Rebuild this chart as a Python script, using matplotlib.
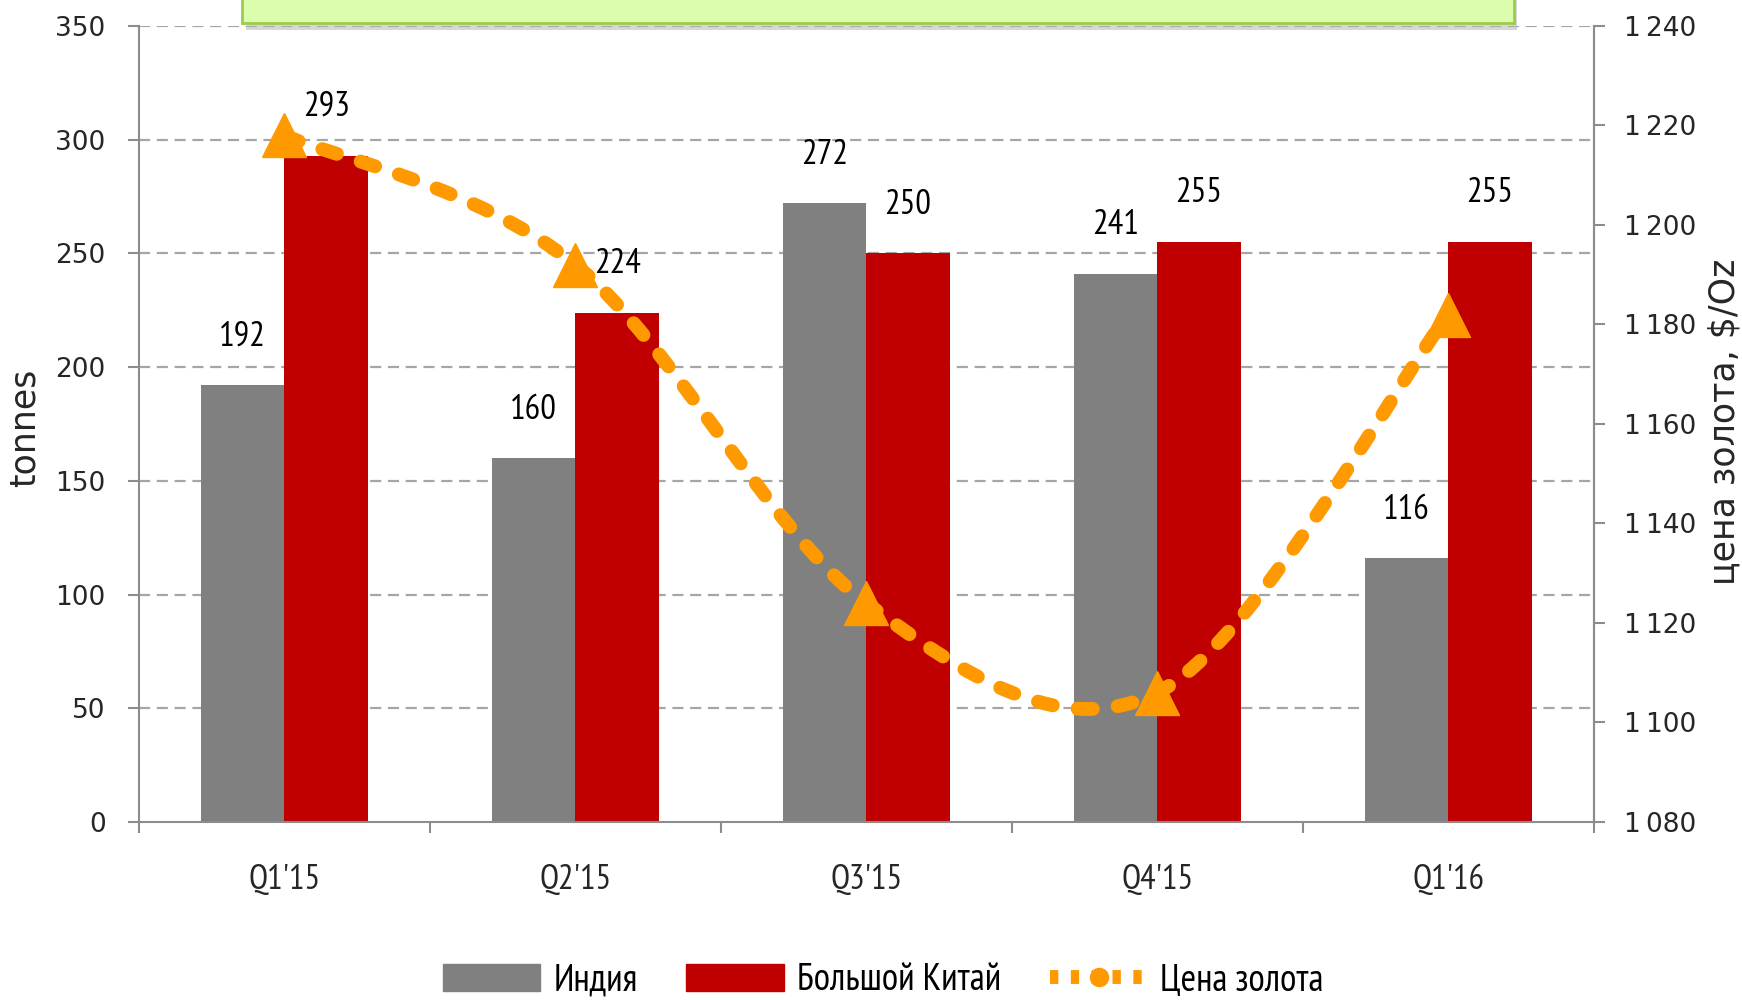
"""
Спрос на золото: Индия и Большой Китай, цена золота
"""

import numpy as np
import matplotlib.pyplot as plt
from matplotlib.path import Path
from matplotlib.patches import PathPatch, Rectangle, Patch
from matplotlib.lines import Line2D

#***************** Data ***************#
quarters = ["Q1'15", "Q2'15", "Q3'15", "Q4'15", "Q1'16"]
india = [192, 160, 272, 241, 116]
china = [293, 224, 250, 255, 255]
gold_price = [1218, 1192, 1124, 1106, 1182]
series_names = ['Индия', 'Большой Китай', 'Цена золота']
#**************************************#

narrow = ['PT Sans Narrow', 'DejaVu Sans']
plt.rcParams['font.family'] = ['DejaVu Sans']

grey = '#808080'
red = '#C00000'
orange = '#FF9900'
axis_col = '#8C8C8C'
txt_col = '#262626'

fig = plt.figure(figsize=(17.42, 10), dpi=100)
ax = fig.add_axes([0.0798, 0.178, 0.835, 0.796])

x = np.arange(len(quarters))
w = 0.287
b1 = ax.bar(x - w/2, india, w, color=grey, zorder=2)
b2 = ax.bar(x + w/2, china, w, color=red, zorder=2)

# data labels above bars
for bars, vals in [(b1, india), (b2, china)]:
	for r, v in zip(bars, vals):
		ax.annotate(str(v), (r.get_x() + r.get_width()/2, v), xytext=(0, 35),
			textcoords='offset points', ha='center', va='center',
			fontsize=25, family=narrow, color='black', zorder=6)

ax.set_xlim(-0.5, len(quarters) - 0.5)
ax.set_ylim(0, 350)
ax.set_yticks(np.arange(0, 351, 50))
ax.set_xticks(np.arange(-0.5, len(quarters), 1.0))
ax.set_xticklabels([])
ax.set_xticks(x, minor=True)
ax.set_xticklabels(quarters, minor=True, fontsize=25, family=narrow, color=txt_col)
ax.tick_params(axis='x', which='minor', length=0, pad=30)
ax.tick_params(axis='x', which='major', length=8, width=1.5, color=axis_col)
ax.tick_params(axis='y', length=8, width=1.5, color=axis_col, pad=16, labelsize=19, labelcolor=txt_col)

for y in range(50, 351, 50):
	ax.axhline(y, color='#A6A6A6', lw=1.6, ls=(0, (5, 3)), zorder=1)

ax.spines['top'].set_visible(False)
for s in ['left', 'right', 'bottom']:
	ax.spines[s].set_color(axis_col)
	ax.spines[s].set_linewidth(1.5)

# price on right axis
ax2 = ax.twinx()
ax2.set_ylim(1080, 1240)
ax2.set_yticks(np.arange(1080, 1241, 20))
ax2.set_yticklabels(['{:,}'.format(v).replace(',', '\u2009') for v in range(1080, 1241, 20)])
ax2.tick_params(axis='y', length=8, width=1.5, color=axis_col, pad=14, labelsize=19, labelcolor=txt_col)
for s in ['top', 'left', 'bottom']:
	ax2.spines[s].set_visible(False)
ax2.spines['right'].set_color(axis_col)
ax2.spines['right'].set_linewidth(1.5)

# smoothed line like excel (catmull-rom -> bezier)
pts = np.column_stack([x, gold_price]).astype(float)
ext = np.vstack([pts[0], pts, pts[-1]])
verts = [tuple(pts[0])]
codes = [Path.MOVETO]
for i in range(len(pts) - 1):
	p0, p1, p2, p3 = ext[i], ext[i+1], ext[i+2], ext[i+3]
	c1 = p1 + (p2 - p0)/6
	c2 = p2 - (p3 - p1)/6
	verts += [tuple(c1), tuple(c2), tuple(p2)]
	codes += [Path.CURVE4]*3
curve = PathPatch(Path(verts, codes), facecolor='none', edgecolor=orange, lw=10,
	ls=(0, (1.1, 1.8)), capstyle='round', zorder=3)
ax2.add_patch(curve)
ax2.plot(x, gold_price, ls='none', marker='^', ms=32, color=orange, zorder=4)

# axis titles
fig.text(0.014, 0.572, 'tonnes', rotation=90, ha='center', va='center', fontsize=25, color=txt_col)
fig.text(0.990, 0.578, 'цена золота, $/Oz', rotation=90, ha='center', va='center', fontsize=25, color=txt_col)

# green box at top (cut off)
fig.patches.append(Rectangle((0.141, 0.970), 0.730, 0.05, transform=fig.transFigure,
	facecolor='#B0B0B0', edgecolor='none', alpha=0.5, zorder=5))
fig.patches.append(Rectangle((0.139, 0.977), 0.730, 0.05, transform=fig.transFigure,
	facecolor='#DCFDAE', edgecolor='#9ACD4A', lw=2, zorder=6))

# legend
handles = [Patch(color=grey), Patch(color=red),
	Line2D([], [], color=orange, lw=10, ls=(0, (0.6, 0.9)), marker='o', ms=13)]
leg = fig.legend(handles, series_names, loc='center', bbox_to_anchor=(0.507, 0.019), ncol=3,
	frameon=False, prop={'family': narrow, 'size': 27}, handlelength=2.6, handleheight=0.75,
	handletextpad=0.35, columnspacing=1.3)

fig.savefig('out.png', dpi=100)
